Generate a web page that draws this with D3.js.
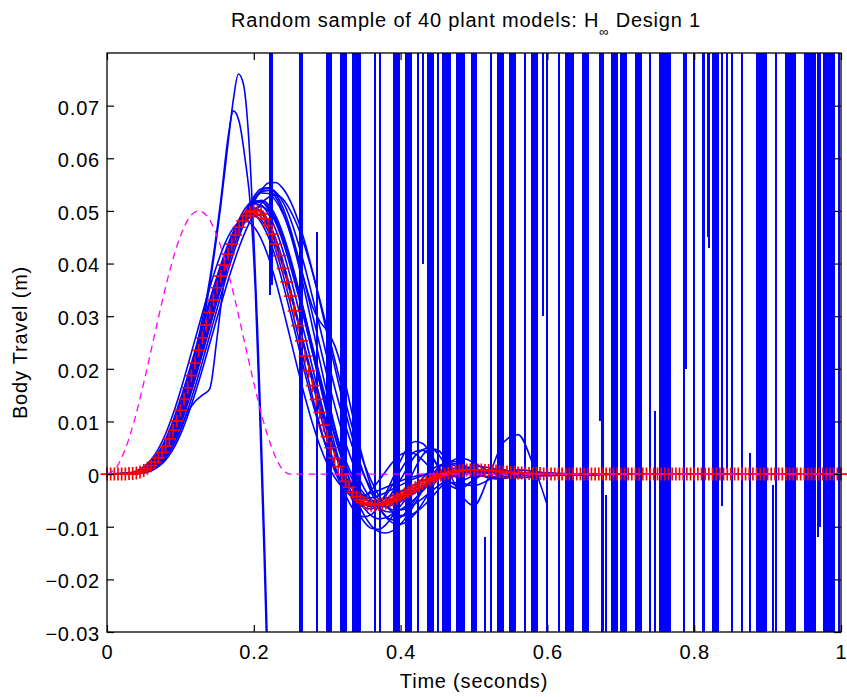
<!DOCTYPE html>
<html><head><meta charset="utf-8">
<script src="https://cdn.jsdelivr.net/npm/d3@7"></script>
<style>
body{margin:0;background:#fff}
text{font-family:"Liberation Sans",Arial,Helvetica,sans-serif;fill:#000}
</style>
</head><body>
<svg id="c" width="847" height="697"></svg>
<script>
// ---------------- DATA ----------------
const titleMain = "Random sample of 40 plant models: H";
const titleSub = "\u221E";
const titleEnd = " Design 1";
const xLabel = "Time (seconds)";
const yLabel = "Body Travel (m)";
const xTicks = [0, 0.2, 0.4, 0.6, 0.8, 1];
const xTickLabels = ["0", "0.2", "0.4", "0.6", "0.8", "1"];
const yTicks = [-0.03, -0.02, -0.01, 0, 0.01, 0.02, 0.03, 0.04, 0.05, 0.06, 0.07];
const yTickLabels = ["\u22120.03", "\u22120.02", "\u22120.01", "0", "0.01", "0.02", "0.03", "0.04", "0.05", "0.06", "0.07"];

// road disturbance (magenta dashed)
const bumpT = [0, .0125, .025, .0375, .05, .0625, .075, .0875, .1, .1125, .125, .1375, .15, .1625, .175, .1875, .2, .2125, .225, .2375, .25, 1.0];
const bumpV = [0, .0012, .0048, .0103, .0173, .025, .0327, .0397, .0452, .0488, .05, .0488, .0452, .0397, .0327, .025, .0173, .0103, .0048, .0012, 0, 0];

// nominal response (red +), sampled every nominalStep seconds
const nominalStep = 0.005;
const nominalV = [
0, 0, 0, 0, 0, 0, .0001, .0001, .0002, .0004,
.0007, .0011, .0016, .0023, .0031, .0041, .0053, .0067, .0083, .0101,
.0121, .0142, .0164, .0187, .0211, .0235, .0259, .0283, .0307, .0331,
.0354, .0376, .0397, .0418, .0437, .0454, .0469, .0481, .0491, .0497,
.0500, .0499, .0494, .0485, .0472, .0456, .0437, .0415, .0391, .0365,
.0338, .0310, .0282, .0253, .0224, .0196, .0168, .0142, .0117, .0093,
.0071, .0050, .0031, .0014, -.0001, -.0014, -.0025, -.0035, -.0043, -.0049,
-.0054, -.0057, -.0059, -.0059, -.0058, -.0057, -.0055, -.0052, -.0049, -.0046,
-.0042, -.0038, -.0034, -.0030, -.0026, -.0022, -.0018, -.0014, -.0011, -.0008,
-.0005, -.0002, 0, .0002, .0004, .0005, .0006, .0007, .0008, .0008,
.0008, .0008, .0008, .0007, .0007, .0006, .0006, .0005, .0004, .0004,
.0003, .0003, .0002, .0002, .0002, .0001, .0001, .0001, .0001, 0,
0, 0, 0, 0, 0, 0, 0, 0, 0, 0,
0, 0, 0, 0, 0, 0, 0, 0, 0, 0,
0, 0, 0, 0, 0, 0, 0, 0, 0, 0,
0, 0, 0, 0, 0, 0, 0, 0, 0, 0,
0, 0, 0, 0, 0, 0, 0, 0, 0, 0,
0, 0, 0, 0, 0, 0, 0, 0, 0, 0,
0, 0, 0, 0, 0, 0, 0, 0, 0, 0,
0, 0, 0, 0, 0, 0, 0, 0, 0, 0,
0];

// stable perturbed plant models (blue), on a shared time grid
const stableT = [0, .03, .05, .06, .07, .08, .09, .10, .11, .12, .13, .14, .15, .16, .17, .18, .19, .20, .21, .22, .23, .24, .25, .26, .27, .28, .29, .30, .31, .32, .33, .34, .35, .36, .37, .38, .39, .40, .41, .42, .43, .44, .45, .46, .47, .48, .49, .50, .53, .56, .60, .65, .70, .80, 1.00];
const m01 = [0, .0001,
.0011, .0023, .0041, .0067, .0101, .0142, .0187, .0235, .0283, .0331,
.0376, .0418, .0454, .0481, .0494, .0493, .0478, .0450, .0410, .0360,
.0305, .0248, .0190, .0136, .0088, .0046, .0012, -.0014, -.0032, -.0042,
-.0046, -.0045, -.0041, -.0035, -.0028, -.0021, -.0014, -.0008, -.0003, .0001,
.0004, .0005, .0006, .0006, .0005, .0004,
.0002, 0, 0, 0, 0, 0, 0];
const m02 = [0, 0,
.0007, .0016, .0031, .0053, .0083, .0121, .0164, .0212, .0261, .0311,
.0360, .0406, .0449, .0484, .0508, .0519, .0518, .0503, .0477, .0440,
.0394, .0343, .0287, .0230, .0174, .0122, .0076, .0035, .0002, -.0024,
-.0043, -.0055, -.0061, -.0062, -.0058, -.0052, -.0044, -.0035, -.0026, -.0018,
-.0010, -.0004, .0001, .0004, .0006, .0007,
.0006, .0003, .0001, 0, 0, 0, 0];
const m03 = [0, 0,
.0004, .0011, .0023, .0041, .0067, .0101, .0142, .0188, .0237, .0287,
.0337, .0385, .0430, .0468, .0499, .0521, .0534, .0533, .0519, .0494,
.0458, .0412, .0360, .0303, .0244, .0186, .0131, .0082, .0039, .0003,
-.0026, -.0048, -.0063, -.0071, -.0072, -.0067, -.0058, -.0046, -.0032, -.0018,
-.0006, .0004, .0010, .0012, .0011, .0009,
.0003, -.0001, -.0001, 0, 0, 0, 0];
const m04 = [0, 0,
.0002, .0007, .0016, .0031, .0053, .0083, .0122, .0166, .0214, .0264,
.0314, .0363, .0409, .0451, .0487, .0516, .0539, .0553, .0554, .0542,
.0518, .0483, .0438, .0385, .0327, .0266, .0205, .0146, .0091, .0042,
.0000, -.0035, -.0062, -.0082, -.0093, -.0095, -.0089, -.0075, -.0055, -.0032,
-.0009, .0011, .0025, .0030, .0028, .0021,
.0000, -.0007, -.0002, .0001, 0, 0, 0];
const m05 = [0, 0,
.0003, .0009, .0020, .0037, .0061, .0093, .0134, .0180, .0229, .0279,
.0329, .0376, .0421, .0461, .0494, .0520, .0536, .0539, .0526, .0497,
.0455, .0403, .0343, .0279, .0214, .0151, .0092, .0038, -.0008, -.0047,
-.0077, -.0098, -.0109, -.0112, -.0107, -.0095, -.0077, -.0055, -.0031, -.0009,
.0009, .0021, .0025, .0022, .0014, .0005,
-.0009, -.0004, .0002, 0, 0, 0, 0];
const m06 = [0, 0,
.0007, .0016, .0031, .0053, .0083, .0121, .0165, .0213, .0262, .0311,
.0358, .0402, .0442, .0474, .0496, .0505, .0500, .0480, .0447, .0403,
.0351, .0294, .0234, .0174, .0117, .0064, .0018, -.0023, -.0054, -.0074,
-.0081, -.0077, -.0061, -.0036, -.0006, .0026, .0051, .0062, .0058, .0041,
.0016, -.0009, -.0024, -.0028, -.0022, -.0010,
.0010, .0002, -.0003, 0, 0, 0, 0];
const m07 = [0, 0,
.0005, .0013, .0026, .0046, .0074, .0110, .0152, .0199, .0248, .0298,
.0347, .0393, .0435, .0471, .0498, .0514, .0517, .0507, .0484, .0449,
.0404, .0351, .0293, .0232, .0171, .0112, .0057, .0008, -.0034, -.0067,
-.0090, -.0103, -.0105, -.0096, -.0077, -.0050, -.0019, .0012, .0036, .0048,
.0046, .0032, .0012, -.0008, -.0020, -.0022,
-.0004, .0008, .0002, -.0002, 0, 0, 0];
const m08 = [0, 0,
.0003, .0008, .0017, .0032, .0055, .0085, .0118, .0138, .0150, .0162,
.0260, .0370, .0420, .0458, .0487, .0503, .0508, .0500, .0480, .0448,
.0405, .0355, .0300, .0243, .0187, .0134, .0086, .0044, .0010, -.0017,
-.0037, -.0050, -.0057, -.0058, -.0055, -.0049, -.0041, -.0032, -.0023, -.0014,
-.0007, -.0001, .0003, .0006, .0007, .0007,
.0004, .0001, 0, 0, 0, 0, 0];
const m09 = [0, .0001,
.0009, .0020, .0037, .0062, .0094, .0134, .0178, .0226, .0275, .0323,
.0369, .0411, .0449, .0479, .0499, .0505, .0496, .0473, .0438, .0394,
.0343, .0288, .0232, .0177, .0126, .0080, .0040, .0007, -.0018, -.0036,
-.0047, -.0051, -.0050, -.0046, -.0040, -.0033, -.0026, -.0019, -.0012, -.0007,
-.0002, .0001, .0003, .0004, .0005, .0005,
.0003, .0001, 0, 0, 0, 0, 0];
const m10 = [0, 0,
.0002, .0006, .0014, .0027, .0047, .0075, .0111, .0153, .0199, .0248,
.0297, .0345, .0390, .0431, .0466, .0494, .0514, .0526, .0530, .0522,
.0500, .0470, .0430, .0383, .0331, .0276, .0219, .0163, .0110, .0062,
.0021, -.0013, -.0040, -.0060, -.0073, -.0079, -.0079, -.0073, -.0062, -.0048,
-.0032, -.0017, -.0004, .0006, .0012, .0015,
.0010, .0002, -.0002, 0, 0, 0, 0];
const m11 = [0, .0001,
.0008, .0018, .0034, .0057, .0088, .0126, .0169, .0215, .0262, .0309,
.0354, .0395, .0432, .0462, .0482, .0490, .0483, .0461, .0425, .0378,
.0323, .0265, .0205, .0147, .0093, .0046, .0007, -.0022, -.0039, -.0046,
-.0043, -.0031, -.0013, .0006, .0024, .0037, .0042, .0038, .0027, .0012,
-.0003, -.0013, -.0017, -.0015, -.0009, -.0002,
.0008, .0003, -.0002, 0, 0, 0, 0];
const m12 = [0, 0,
.0004, .0011, .0023, .0041, .0067, .0101, .0142, .0188, .0237, .0287,
.0337, .0385, .0430, .0469, .0501, .0527, .0542, .0544, .0532, .0505,
.0465, .0415, .0362, .0318, .0290, .0272, .0245, .0200, .0140, .0078,
.0022, -.0025, -.0060, -.0080, -.0087, -.0082, -.0068, -.0048, -.0026, -.0006,
.0010, .0019, .0021, .0017, .0010, .0003,
-.0006, -.0003, .0001, 0, 0, 0, 0];
const m13 = [0, 0,
.0007, .0016, .0031, .0053, .0083, .0121, .0164, .0212, .0261, .0310,
.0358, .0403, .0443, .0477, .0501, .0513, .0511, .0494, .0464, .0423,
.0374, .0319, .0261, .0202, .0145, .0093, .0047, .0007, -.0026, -.0050,
-.0063, -.0066, -.0058, -.0041, -.0018, .0007, .0029, .0043, .0045, .0036,
.0018, -.0002, -.0017, -.0023, -.0020, -.0011,
.0008, .0004, -.0002, 0, 0, 0, 0];
const m14 = [0, .0002,
.0014, .0027, .0048, .0077, .0114, .0158, .0206, .0256, .0306, .0354,
.0398, .0436, .0463, .0478, .0480, .0470, .0447, .0412, .0366, .0313,
.0256, .0199, .0145, .0096, .0054, .0020, -.0006, -.0024, -.0035, -.0040,
-.0040, -.0036, -.0031, -.0025, -.0019, -.0013, -.0008, -.0004, -.0001, .0001,
.0003, .0003, .0003, .0003, .0002, .0002,
.0001, 0, 0, 0, 0, 0, 0];
const m15 = [0, 0,
.0005, .0013, .0027, .0046, .0073, .0108, .0150, .0197, .0246, .0296,
.0345, .0392, .0434, .0470, .0497, .0514, .0520, .0512, .0490, .0455,
.0410, .0357, .0299, .0239, .0180, .0124, .0073, .0028, -.0010, -.0041,
-.0064, -.0079, -.0085, -.0083, -.0074, -.0060, -.0043, -.0025, -.0008, .0006,
.0015, .0019, .0018, .0013, .0006, .0000,
-.0006, -.0002, .0001, 0, 0, 0, 0];
const m16 = [0, 0,
.0004, .0010, .0021, .0039, .0064, .0097, .0137, .0183, .0232, .0282,
.0332, .0380, .0425, .0465, .0498, .0523, .0538, .0543, .0536, .0516,
.0484, .0441, .0391, .0336, .0279, .0221, .0166, .0115, .0070, .0031,
-.0002, -.0028, -.0048, -.0061, -.0068, -.0068, -.0064, -.0056, -.0046, -.0035,
-.0024, -.0014, -.0006, .0000, .0004, .0006,
.0005, .0002, 0, 0, 0, 0, 0];

// lightly damped / unstable models, early parts
const u1T = [0, .05, .08, .10, .12, .14, .155, .165, .172, .179, .186, .193, .20, .205, .21, .215, .22];
const u1V = [0, .0003, .0045, .0105, .021, .036, .051, .063, .071, .076, .074, .064, .045, .028, .008, -.015, -.04];
const u2T = [0, .05, .08, .10, .12, .14, .155, .165, .172, .18, .188, .196, .202, .208, .214, .22];
const u2V = [0, .0004, .005, .012, .023, .037, .052, .064, .069, .067, .060, .050, .035, .012, -.015, -.045];
const u3T = [0, .05, .08, .10, .12, .14, .16, .18, .20, .22, .24, .26, .28, .30, .32, .34, .36, .38, .40, .42, .44, .46, .48, .50, .52, .54, .56, .58, .60];
const u3V = [0, .0006, .005, .0115, .0205, .0300, .0392, .0462, .0495, .0470, .0395, .0292, .0185, .0088, .0012, -.0040, -.0062, -.0050, -.0010, .0035, .0050, .0020, -.0035, -.0060, -.0005, .0060, .0075, .0020, -.0060];

// diverging models: times where a swing crosses the whole axis range
const wildReach = 0.2;
const wildFullT = [
.2629, .2643, .2657,
.2997, .3011, .3025, .3038, .3052,
.3188, .3202, .3215, .3229, .3243, .3256,
.3351, .3365, .3379, .3392, .3406, .3420, .3433, .3447,
.3651, .3719,
.3910, .3924, .3937, .3951, .3965, .3978,
.4074, .4087, .4101, .4114, .4128, .4142,
.4237,
.4373, .4387, .4401, .4414, .4428, .4441,
.4510,
.4578, .4591, .4605, .4619, .4632, .4646, .4659, .4673,
.4768, .4782, .4796, .4809, .4823, .4837, .4850, .4864,
.4973, .4986, .5000, .5014, .5027,
.5232,
.5327, .5341, .5354, .5368, .5381, .5395,
.5490, .5504, .5518, .5531, .5545, .5559,
.5695,
.5790, .5804, .5817, .5831, .5845, .5858,
.5995, .6158,
.6253, .6267, .6281, .6294, .6308, .6322, .6335, .6349,
.6485, .6499, .6512, .6526, .6540, .6553,
.6744, .6757,
.6880, .6894, .6907, .6921, .6935, .6948,
.7003, .7016, .7030, .7044, .7057, .7071,
.7207, .7221, .7234, .7248, .7262, .7275,
.7398,
.7534, .7548, .7561, .7575, .7589, .7602, .7616, .7629, .7643, .7657, .7670,
.7861, .7997, .8120, .8134,
.8256, .8270, .8283, .8297, .8311, .8324,
.8515, .8651,
.8856, .8869, .8883, .8896, .8910, .8924, .8937, .8951, .8965, .8978,
.9114,
.9251, .9264, .9278, .9292, .9305, .9319, .9332, .9346, .9360, .9373,
.9510, .9523, .9537, .9550, .9564, .9578, .9591, .9605, .9619, .9632, .9646,
.9768, .9782, .9796, .9809, .9823, .9837, .9850, .9864, .9877, .9891, .9905,
.9973];
// swings that turn around inside the axes
const wildPartT  = [.2221, .2248, .2861, .4305, .5150, .5940, .6717, .6798, .7466, .7875, .7888, .8188, .8202, .8379, .8447, .8760, .9074, .9687, .9714];
const wildPartHi = [.2, .2, .046, .2, -.012, .2, .2, -.004, .012, .2, .2, .2, .2, .2, .2, .004, -.002, .2, .2];
const wildPartLo = [.034, .036, -.2, .040, -.2, .030, .010, -.2, -.2, .022, .020, .045, .043, -.006, .001, -.2, -.2, -.012, -.010];

// ---------------- DRAW ----------------
const W = 847, H = 697;
const L = 107, R = 841, T = 53, B = 632;
const x = d3.scaleLinear().domain([0, 1]).range([L, R]);
const y = d3.scaleLinear().domain([-0.03, 0.08]).range([B, T]);
const svg = d3.select("#c");
svg.append("rect").attr("width", W).attr("height", H).attr("fill", "#fff");
svg.append("defs").append("clipPath").attr("id", "clip")
  .append("rect").attr("x", L).attr("y", T).attr("width", R - L).attr("height", B - T);

const plot = svg.append("g").attr("clip-path", "url(#clip)");
const BLUE = "#0000ff";
const lineGen = d3.line().curve(d3.curveMonotoneX);

const stableModels = [m01, m02, m03, m04, m05, m06, m07, m08, m09, m10, m11, m12, m13, m14, m15, m16];
stableModels.forEach(vals => {
  plot.append("path")
    .attr("d", lineGen(stableT.map((t, i) => [x(t), y(vals[i])])))
    .attr("fill", "none").attr("stroke", BLUE).attr("stroke-width", 1.6);
});
[[u1T, u1V], [u2T, u2V], [u3T, u3V]].forEach(([ts, vs]) => {
  plot.append("path")
    .attr("d", lineGen(ts.map((t, i) => [x(t), y(vs[i])])))
    .attr("fill", "none").attr("stroke", BLUE).attr("stroke-width", 1.6);
});
plot.append("g").attr("shape-rendering", "crispEdges").selectAll("line").data(wildFullT).join("line")
  .attr("x1", d => x(d)).attr("x2", d => x(d))
  .attr("y1", y(wildReach)).attr("y2", y(-wildReach))
  .attr("stroke", BLUE).attr("stroke-width", 2);
plot.append("g").attr("shape-rendering", "crispEdges").selectAll("line").data(wildPartT).join("line")
  .attr("x1", d => x(d)).attr("x2", d => x(d))
  .attr("y1", (d, i) => y(wildPartHi[i])).attr("y2", (d, i) => y(wildPartLo[i]))
  .attr("stroke", BLUE).attr("stroke-width", 2);

// nominal red + markers
const crossD = nominalV.map((v, i) => {
  const cx = x(i * nominalStep), cy = y(v);
  return `M${cx - 6.5},${cy}h13M${cx},${cy - 6.5}v13`;
}).join("");
svg.append("path").attr("d", crossD).attr("fill", "none")
  .attr("stroke", "#ff0000").attr("stroke-width", 1.7);

// magenta dashed road input
svg.append("path")
  .attr("d", lineGen(bumpT.map((t, i) => [x(t), y(bumpV[i])])))
  .attr("fill", "none").attr("stroke", "#ff00ff").attr("stroke-width", 1.3)
  .attr("stroke-dasharray", "7,5");

// axes
const FS = 20;
const styleAxis = g => {
  g.attr("font-size", null).attr("font-family", null);
  g.select(".domain").remove();
  g.selectAll(".tick line").attr("stroke", "#000").attr("stroke-width", 1.2);
  g.selectAll(".tick text").style("font-size", FS + "px").style("letter-spacing", "0.8px").attr("fill", "#000");
};
svg.append("g").attr("transform", `translate(0,${B})`)
  .call(d3.axisBottom(x).tickValues(xTicks).tickSizeInner(-7).tickSizeOuter(0).tickPadding(13)
    .tickFormat((d, i) => xTickLabels[i]))
  .call(styleAxis);
svg.append("g").attr("transform", `translate(0,${T})`)
  .call(d3.axisTop(x).tickValues(xTicks).tickSizeInner(-7).tickSizeOuter(0).tickFormat(""))
  .call(styleAxis);
const gl = svg.append("g").attr("transform", `translate(${L},0)`)
  .call(d3.axisLeft(y).tickValues(yTicks).tickSizeInner(-7).tickSizeOuter(0).tickPadding(7)
    .tickFormat((d, i) => yTickLabels[i]))
  .call(styleAxis);
gl.selectAll(".tick text").attr("dy", "0.42em");
svg.append("g").attr("transform", `translate(${R},0)`)
  .call(d3.axisRight(y).tickValues(yTicks).tickSizeInner(-7).tickSizeOuter(0).tickFormat(""))
  .call(styleAxis);
svg.append("rect").attr("x", L).attr("y", T).attr("width", R - L).attr("height", B - T)
  .attr("fill", "none").attr("stroke", "#000").attr("stroke-width", 1.3);

// labels
const title = svg.append("text").attr("x", 466).attr("y", 27).attr("text-anchor", "middle")
  .style("font-size", FS + "px").style("letter-spacing", "0.8px");
title.append("tspan").text(titleMain);
title.append("tspan").attr("dy", 9).style("font-size", "13px").text(titleSub);
title.append("tspan").attr("dy", -9).text(titleEnd);

svg.append("text").attr("x", (L + R) / 2).attr("y", 688).attr("text-anchor", "middle")
  .style("font-size", FS + "px").style("letter-spacing", "0.8px").text(xLabel);
svg.append("text").attr("transform", `translate(27,${(T + B) / 2}) rotate(-90)`).attr("text-anchor", "middle")
  .style("font-size", FS + "px").style("letter-spacing", "0.8px").text(yLabel);
</script>
</body></html>
